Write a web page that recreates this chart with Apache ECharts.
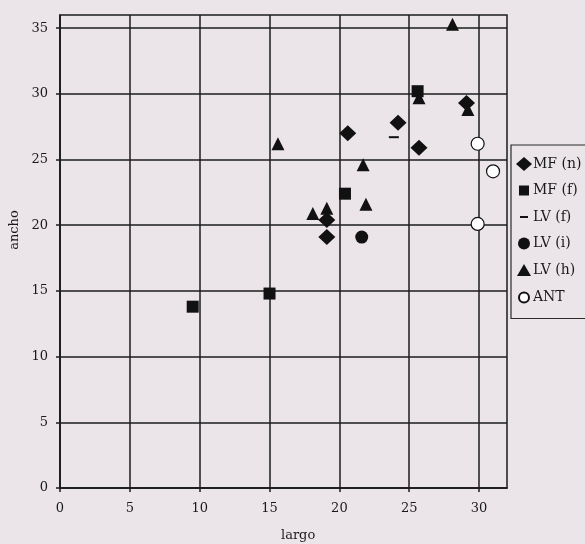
<!DOCTYPE html>
<html>
<head>
<meta charset="utf-8">
<script src="https://cdn.jsdelivr.net/npm/echarts@6/dist/echarts.min.js"></script>
<style>
html,body{margin:0;padding:0;background:#ebe5e9;}
#c{width:585px;height:544px;}
</style>
</head>
<body>
<div id="c"></div>
<script>
var xTicks = [0, 5, 10, 15, 20, 25, 30];
var yTicks = [0, 5, 10, 15, 20, 25, 30, 35];
var seriesNames = ['MF (n)', 'MF (f)', 'LV (f)', 'LV (i)', 'LV (h)', 'ANT'];
var mfN = [[20.6, 27.0], [24.2, 27.8], [25.7, 25.9], [29.1, 29.3], [19.1, 20.4], [19.1, 19.1]];
var mfF = [[25.6, 30.2], [20.4, 22.4], [9.5, 13.8], [15.0, 14.8]];
var lvF = [[23.9, 26.7]];
var lvI = [[21.6, 19.1]];
var lvH = [[28.1, 35.3], [25.7, 29.7], [29.2, 28.8], [21.7, 24.6], [21.9, 21.6], [18.1, 20.9], [19.1, 21.3], [15.6, 26.2]];
var ant = [[29.9, 26.2], [31.0, 24.1], [29.9, 20.1]];

var ink = '#111111';
var lineC = '#1c1c1c';
var font = 'DejaVu Serif';
var chart = echarts.init(document.getElementById('c'));

function sc(name, data, symbol, size, extra) {
  var s = {
    name: name, type: 'scatter', data: data, symbol: symbol, symbolSize: size,
    itemStyle: { color: ink, opacity: 1 },
    emphasis: { disabled: true }
  };
  if (extra) { for (var k in extra) s[k] = extra[k]; }
  return s;
}

chart.setOption({
  backgroundColor: '#ebe5e9',
  animation: false,
  grid: { left: 60, top: 15, right: 78, bottom: 56, show: true, borderColor: lineC, borderWidth: 1.5, backgroundColor: 'transparent' },
  xAxis: {
    type: 'value', min: 0, max: 32, interval: 5,
    axisLine: { show: true, onZero: false, lineStyle: { color: lineC, width: 1.5 } },
    axisTick: { show: true, length: 4, customValues: xTicks, lineStyle: { color: lineC, width: 1.5 } },
    axisLabel: { customValues: xTicks, color: '#1a1a1a', fontFamily: font, fontSize: 13, margin: 14 },
    splitLine: { show: true, lineStyle: { color: lineC, width: 1.5 } }
  },
  yAxis: {
    type: 'value', min: 0, max: 36, interval: 5,
    axisLine: { show: true, onZero: false, lineStyle: { color: lineC, width: 1.5 } },
    axisTick: { show: true, length: 4, customValues: yTicks, lineStyle: { color: lineC, width: 1.5 } },
    axisLabel: { customValues: yTicks, color: '#1a1a1a', fontFamily: font, fontSize: 13, margin: 12 },
    splitLine: { show: true, lineStyle: { color: lineC, width: 1.5 } }
  },
  legend: {
    orient: 'vertical', left: 511, top: 145,
    data: [
      { name: 'MF (n)', icon: 'path://M0,-9M0,9M-9,0L0,-8L9,0L0,8Z' },
      { name: 'MF (f)', icon: 'path://M-8,-8M8,8M-5,-5H5V5H-5Z' },
      { name: 'LV (f)', icon: 'path://M-8,-8M8,8M-4,-1H4V1H-4Z' },
      { name: 'LV (i)', icon: 'path://M-8,-8M8,8M-6,0A6,6,0,1,1,6,0A6,6,0,1,1,-6,0Z' },
      { name: 'LV (h)', icon: 'path://M-8,-8M8,8M0,-6L7,6H-7Z' },
      { name: 'ANT', icon: 'path://M-8,-8M8,8M-5,0A5,5,0,1,1,5,0A5,5,0,1,1,-5,0Z' }
    ],
    itemWidth: 18, itemHeight: 16, itemGap: 10.5, selectedMode: false,
    padding: [11, 14, 12, 4],
    borderColor: '#2a2a2a', borderWidth: 1.2, backgroundColor: '#ebe5e9',
    textStyle: { color: '#1a1a1a', fontFamily: font, fontSize: 14, padding: [0, 0, 0, -5] }
  },
  graphic: [
    { type: 'text', left: 281, top: 529, style: { text: 'largo', fontFamily: font, fontSize: 13, fill: '#1a1a1a' } },
    { type: 'text', x: 8, y: 230, rotation: Math.PI / 2, style: { text: 'ancho', fontFamily: font, fontSize: 13, fill: '#1a1a1a', align: 'center', verticalAlign: 'top' } }
  ],
  series: [
    sc('LV (h)', lvH, 'triangle', 13, { z: 2 }),
    sc('MF (n)', mfN, 'diamond', [17, 16], { z: 3 }),
    sc('MF (f)', mfF, 'rect', 12, { z: 3 }),
    sc('LV (f)', lvF, 'rect', [10, 2], { z: 3 }),
    sc('LV (i)', lvI, 'circle', 13, { z: 3 }),
    sc('ANT', ant, 'circle', 13, { z: 3, itemStyle: { color: '#ffffff', borderColor: ink, borderWidth: 1.2, opacity: 1 } })
  ]
});
</script>
</body>
</html>
